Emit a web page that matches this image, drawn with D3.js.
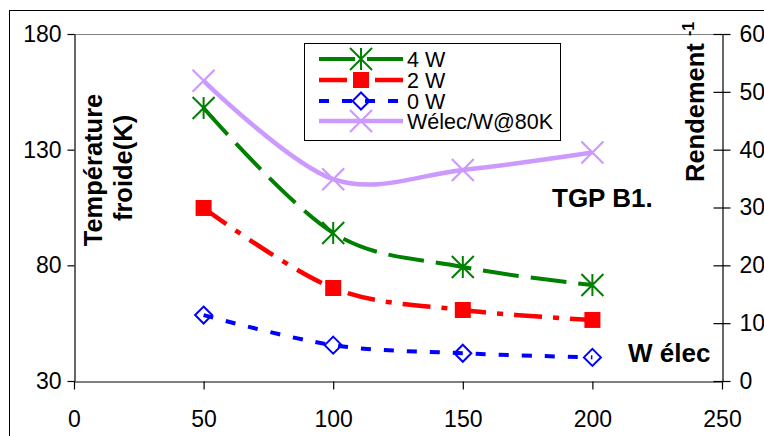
<!DOCTYPE html>
<html><head><meta charset="utf-8">
<script src="https://cdn.jsdelivr.net/npm/d3@7"></script>
<style>
html,body{margin:0;padding:0;background:#fff;}
svg{display:block;font-family:Arial,"Liberation Sans",sans-serif;}
</style></head>
<body>
<script>
// ---- data ----
const xValues = [50, 100, 150, 200];
const series4W = [148, 94, 79.3, 71.5];
const series2W = [104.8, 70.2, 60.7, 56.4];
const series0W = [58.5, 45.5, 42, 40.2];
const seriesWelec = [51.9, 34.9, 36.5, 39.5];
const xTicks = [0, 50, 100, 150, 200, 250];
const yLeftTicks = [30, 80, 130, 180];
const yRightTicks = [0, 10, 20, 30, 40, 50, 60];
const legendLabels = ["4 W", "2 W", "0 W", "Wélec/W@80K"];

const W = 764, H = 436;
const svg = d3.select("body").append("svg").attr("width", W).attr("height", H);

const L = 74, R = 722, T = 34, B = 381;
const x = d3.scaleLinear().domain([0, 250]).range([L, R]);
const yL = d3.scaleLinear().domain([30, 180]).range([B, T]);
const yR = d3.scaleLinear().domain([0, 60]).range([B, T]);

// outer frame
svg.append("rect").attr("x", 9.5).attr("y", 10.5).attr("width", 900).attr("height", 600)
  .attr("fill", "none").attr("stroke", "#000").attr("stroke-width", 1);

// plot top border
svg.append("line").attr("x1", L).attr("x2", R).attr("y1", T + 0.5).attr("y2", T + 0.5)
  .attr("stroke", "#808080").attr("stroke-width", 1.2);

const tickFont = 23;
// left axis
const gl = svg.append("g").attr("transform", `translate(${L + 0.5},0)`)
  .call(d3.axisLeft(yL).tickValues(yLeftTicks).tickSize(7).tickSizeOuter(0).tickPadding(6));
gl.selectAll("text").attr("font-size", tickFont).attr("font-family", "Arial,'Liberation Sans',sans-serif").attr("fill", "#000");
// right axis
const gr = svg.append("g").attr("transform", `translate(${R + 0.5},0)`)
  .call(d3.axisRight(yR).tickValues(yRightTicks).tickSize(8).tickSizeOuter(0).tickPadding(9));
gr.selectAll(".tick line").attr("x1", -9);
gr.selectAll("text").attr("font-size", tickFont).attr("font-family", "Arial,'Liberation Sans',sans-serif").attr("fill", "#000");
// bottom axis
const gb = svg.append("g").attr("transform", `translate(0,${B + 0.5})`)
  .call(d3.axisBottom(x).tickValues(xTicks).tickSize(8).tickSizeOuter(0).tickPadding(21));
gb.selectAll("text").attr("font-size", tickFont).attr("font-family", "Arial,'Liberation Sans',sans-serif").attr("fill", "#000");
svg.selectAll(".domain").attr("stroke", "#000").attr("stroke-width", 1.2);
svg.selectAll(".tick line").attr("stroke", "#000").attr("stroke-width", 1.2);

// axis titles
const lt = svg.append("g").attr("font-weight", "bold").attr("font-size", 25.5).attr("text-anchor", "middle");
lt.append("text").attr("transform", "translate(102,170) rotate(-90)").text("Température");
lt.append("text").attr("transform", "translate(132,168) rotate(-90)").text("froide(K)");
const rt = svg.append("text").attr("transform", "translate(704,182) rotate(-90)")
  .attr("font-weight", "bold").attr("font-size", 25.5);
rt.append("tspan").text("Rendement ");
rt.append("tspan").attr("font-size", 16).attr("dy", -10).text("-1");

// annotations
svg.append("text").attr("x", 552).attr("y", 207).attr("font-weight", "bold").attr("font-size", 26).text("TGP B1.");
svg.append("text").attr("x", 628).attr("y", 362).attr("font-weight", "bold").attr("font-size", 26).text("W élec");

// series config
const cfg = [
  {vals: series4W, y: yL, color: "#008000", width: 4, dash: "36,12", marker: "star"},
  {vals: series2W, y: yL, color: "#FF0000", width: 4.5, dash: "28,11,6,11", marker: "square"},
  {vals: series0W, y: yL, color: "#0000FF", width: 4, dash: "10,13", marker: "diamond"},
  {vals: seriesWelec, y: yR, color: "#CC99FF", width: 4.5, dash: null, marker: "x"}
];

function drawMarker(g, type, cx, cy, color) {
  if (type === "star") {
    const s = 11;
    g.append("path").attr("d", `M${cx - s},${cy - s}L${cx + s},${cy + s}M${cx - s},${cy + s}L${cx + s},${cy - s}M${cx},${cy - s}L${cx},${cy + s}`)
      .attr("stroke", color).attr("stroke-width", 2).attr("fill", "none");
  } else if (type === "square") {
    g.append("rect").attr("x", cx - 8).attr("y", cy - 8).attr("width", 16).attr("height", 16).attr("fill", color);
  } else if (type === "diamond") {
    const s = 8.5;
    g.append("path").attr("d", `M${cx},${cy - s}L${cx + s},${cy}L${cx},${cy + s}L${cx - s},${cy}Z`)
      .attr("stroke", color).attr("stroke-width", 2).attr("fill", "none");
  } else if (type === "x") {
    const s = 11;
    g.append("path").attr("d", `M${cx - s},${cy - s}L${cx + s},${cy + s}M${cx - s},${cy + s}L${cx + s},${cy - s}`)
      .attr("stroke", color).attr("stroke-width", 2.2).attr("fill", "none");
  }
}

const line = d3.line().curve(d3.curveCardinal.tension(0));
cfg.forEach(c => {
  const pts = xValues.map((xv, i) => [x(xv), c.y(c.vals[i])]);
  const p = svg.append("path").attr("d", line(pts)).attr("fill", "none")
    .attr("stroke", c.color).attr("stroke-width", c.width).attr("stroke-linejoin", "round");
  if (c.dash) p.attr("stroke-dasharray", c.dash);
  const mg = svg.append("g");
  pts.forEach(pt => drawMarker(mg, c.marker, pt[0], pt[1], c.color));
});

// legend
const lg = svg.append("g");
lg.append("rect").attr("x", 304.5).attr("y", 43.5).attr("width", 256).attr("height", 97)
  .attr("fill", "#fff").attr("stroke", "#000").attr("stroke-width", 1);
const rowsY = [59, 80, 101, 121];
cfg.forEach((c, i) => {
  const yy = rowsY[i];
  const l = lg.append("line").attr("x1", 319).attr("x2", 403).attr("y1", yy).attr("y2", yy)
    .attr("stroke", c.color).attr("stroke-width", c.width);
  if (c.dash) l.attr("stroke-dasharray", c.dash);
  drawMarker(lg, c.marker, 361, yy, c.color);
  lg.append("text").attr("x", 407).attr("y", yy + 7.5).attr("font-size", 21.5).text(legendLabels[i]);
});
</script>
</body></html>
